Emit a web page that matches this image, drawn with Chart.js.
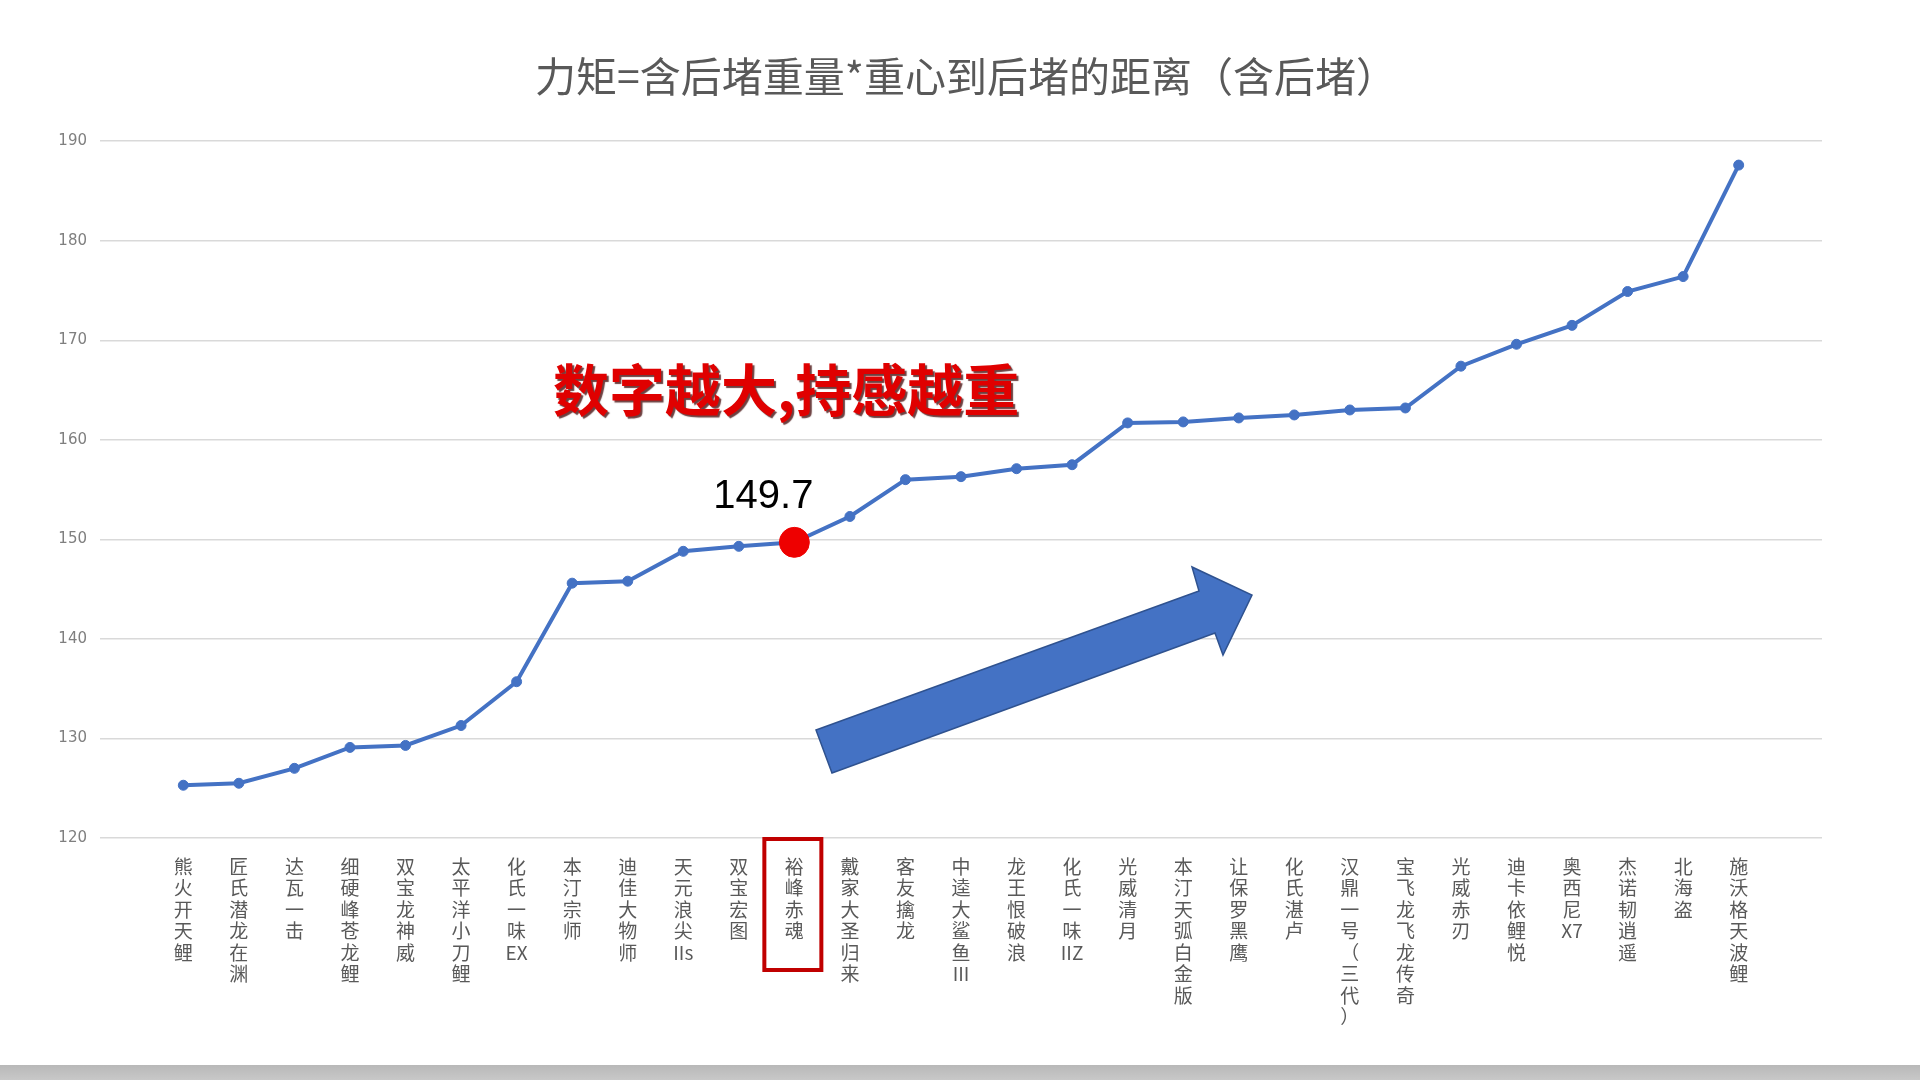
<!DOCTYPE html>
<html>
<head>
<meta charset="utf-8">
<script src="https://cdn.jsdelivr.net/npm/chart.js@4/dist/chart.umd.min.js"></script>
<style>
  html, body { margin: 0; padding: 0; background: #fff; }
  #wrap { position: relative; width: 1920px; height: 1080px; overflow: hidden; }
  #bar { position: absolute; left: 0; bottom: 0; width: 1920px; height: 15px;
         background: linear-gradient(#b8b8b8, #c8c8c8); }
</style>
</head>
<body>
<div id="wrap">
  <canvas id="torqueChart" width="1920" height="1080"></canvas>
  <div id="bar"></div>
</div>
<script>
// rod names, in the order shown on the axis (space = small gap in the original)
const rods = [
  '熊火 开天鲤', '匠氏 潜龙在渊', '达瓦 一击', '细硬峰 苍龙鲤', '双宝 龙神威',
  '太平洋 小刀鲤', '化氏 一味EX', '本汀 宗师', '迪佳 大物师', '天元 浪尖IIs',
  '双宝 宏图', '裕峰 赤魂', '戴家 大圣归来', '客友 擒龙', '中逵 大鲨鱼III',
  '龙王恨 破浪', '化氏 一味IIZ', '光威 清月', '本汀 天弧白金版', '让保罗 黑鹰',
  '化氏 湛卢', '汉鼎 一号（三代）', '宝飞龙 飞龙传奇', '光威 赤刃', '迪卡依 鲤悦',
  '奥西尼 X7', '杰诺 韧逍遥', '北海盗', '施沃格 天波鲤'
];

// torque values
const torque = [
  125.3, 125.5, 127.0, 129.1, 129.3, 131.3, 135.7, 145.6, 145.8, 148.8,
  149.3, 149.7, 152.3, 156.0, 156.3, 157.1, 157.5, 161.7, 161.8, 162.2,
  162.5, 163.0, 163.2, 167.4, 169.6, 171.5, 174.9, 176.4, 187.6
];

const yTicks = [120, 130, 140, 150, 160, 170, 180, 190];
const highlightIdx = 11; // 裕峰 赤魂

const BLUE = '#4472c4';

// one character per line, latin runs kept together, spaces dropped
function verticalLabel(name) {
    return name.match(/[A-Za-z0-9]+|[^\sA-Za-z0-9]/g);
}

const notesPlugin = {
    id: 'notes',
    afterDraw(chart) {
        const ctx = chart.ctx;
        const x = chart.scales.x;
        const area = chart.chartArea;
        const pt = chart.getDatasetMeta(0).data[highlightIdx];

        ctx.save();

        // big blue arrow
        ctx.beginPath();
        ctx.moveTo(816, 730);
        ctx.lineTo(1199, 591);
        ctx.lineTo(1192, 567);
        ctx.lineTo(1252, 595);
        ctx.lineTo(1223, 655);
        ctx.lineTo(1215, 633);
        ctx.lineTo(832, 773);
        ctx.closePath();
        ctx.fillStyle = BLUE;
        ctx.fill();
        ctx.lineWidth = 1.5;
        ctx.strokeStyle = '#2f528f';
        ctx.stroke();

        // value label over the highlighted point
        ctx.fillStyle = '#000';
        ctx.font = '40px "Liberation Sans", Arial, sans-serif';
        ctx.textAlign = 'center';
        ctx.textBaseline = 'middle';
        ctx.fillText(torque[highlightIdx].toFixed(1), pt.x - 31, pt.y - 45);

        // red remark
        ctx.font = 'bold 56px "Noto Sans CJK SC", sans-serif';
        ctx.textAlign = 'left';
        ctx.shadowColor = 'rgba(60,0,0,0.75)';
        ctx.shadowOffsetX = 2;
        ctx.shadowOffsetY = 2;
        ctx.shadowBlur = 1;
        ctx.fillStyle = '#e00000';
        ctx.fillText('数字越大,持感越重', 553, 390);
        ctx.shadowColor = 'transparent';

        // red box around the highlighted tick label
        const cx = x.getPixelForValue(highlightIdx);
        ctx.lineWidth = 4;
        ctx.strokeStyle = '#c00000';
        ctx.strokeRect(cx - 30, area.bottom + 1, 57, 131);

        ctx.restore();
    }
};

function renderTorqueChart() {
    const ctx = document.getElementById('torqueChart').getContext('2d');

    new Chart(ctx, {
        type: 'line',
        data: {
            datasets: [{
                label: '力矩',
                data: torque.map((v, i) => ({ x: i, y: v })),
                borderColor: BLUE,
                borderWidth: 4,
                tension: 0,
                pointRadius: torque.map((v, i) => i === highlightIdx ? 15 : 5),
                pointBackgroundColor: torque.map((v, i) => i === highlightIdx ? '#ee0000' : BLUE),
                pointBorderColor: torque.map((v, i) => i === highlightIdx ? '#ee0000' : BLUE),
                pointBorderWidth: 1
            }]
        },
        options: {
            responsive: false,
            animation: false,
            devicePixelRatio: 1,
            layout: { padding: { left: 12, right: 0, top: 0, bottom: 0 } },
            plugins: {
                legend: { display: false },
                tooltip: { enabled: false },
                title: {
                    display: true,
                    text: '力矩=含后堵重量*重心到后堵的距离（含后堵）',
                    color: '#595959',
                    font: { family: '"Noto Sans CJK SC", sans-serif', size: 41, weight: 'normal', lineHeight: 1.2 },
                    padding: { top: 52, bottom: 40 }
                }
            },
            scales: {
                x: {
                    type: 'linear',
                    min: -1.5,
                    max: rods.length + 0.5,
                    grid: { display: false },
                    border: { display: false },
                    afterBuildTicks: scale => {
                        scale.ticks = rods.map((r, i) => ({ value: i }));
                    },
                    afterFit: scale => { scale.height = 242; },
                    ticks: {
                        autoSkip: false,
                        maxRotation: 0,
                        minRotation: 0,
                        padding: 10,
                        color: '#595959',
                        font: { family: '"Noto Sans CJK SC", sans-serif', size: 19, lineHeight: 1.13 },
                        callback: value => rods[value] ? verticalLabel(rods[value]) : ''
                    }
                },
                y: {
                    min: yTicks[0],
                    max: yTicks[yTicks.length - 1],
                    grid: { color: '#d9d9d9', lineWidth: 1.5, drawTicks: false },
                    border: { display: false },
                    afterFit: scale => { scale.width = 88; },
                    afterBuildTicks: scale => {
                        scale.ticks = yTicks.map(v => ({ value: v }));
                    },
                    ticks: {
                        padding: 13,
                        color: '#7f7f7f',
                        font: { family: '"DejaVu Sans", sans-serif', size: 15 }
                    }
                },
                // empty spacer on the right so the title sits where it does in the original
                yRight: {
                    position: 'right',
                    min: yTicks[0],
                    max: yTicks[yTicks.length - 1],
                    grid: { display: false },
                    border: { display: false },
                    ticks: { display: false },
                    afterFit: scale => { scale.width = 98; }
                }
            }
        },
        plugins: [notesPlugin]
    });
}

document.addEventListener('DOMContentLoaded', renderTorqueChart);
</script>
</body>
</html>
